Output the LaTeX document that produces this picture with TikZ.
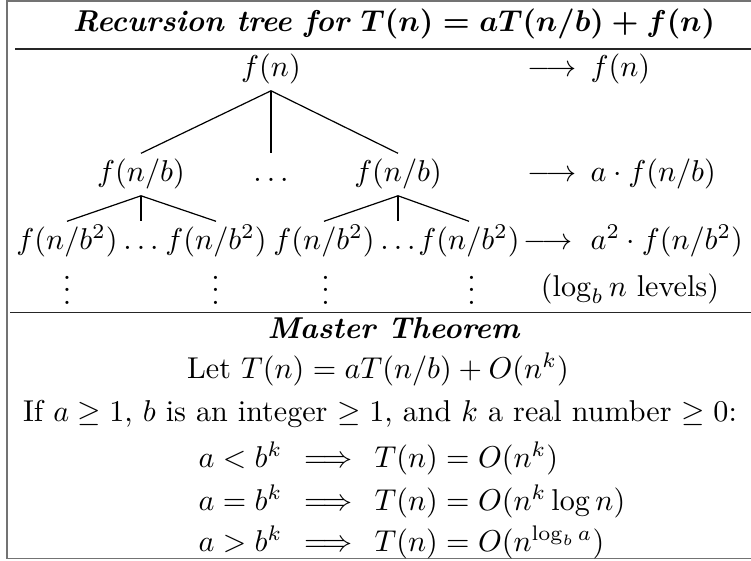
\documentclass[tikz,border=0pt]{standalone}
\usepackage{amsmath}
\begin{document}
\begin{tikzpicture}[x=0.3319pt,y=-0.3319pt,
  tn/.style={inner xsep=0.5pt, inner ysep=2.2pt, text height=6.8pt, text depth=2.5pt, anchor=base},
  txt/.style={inner sep=0pt, anchor=base},
  txtw/.style={inner sep=0pt, anchor=base west},
  edge/.style={line width=0.4pt, black},
  rulel/.style={line width=0.45pt, black!85},
  framel/.style={line width=0.55pt, black!55}]
\useasboundingbox (0,0) rectangle (751,560);
% frame (right side cut off)
\draw[framel] (751,0.8) -- (6.8,0.8) -- (6.8,558.6) -- (751,558.6);
% title
\node[txt] (title) at (394,31) {\textbf{\textit{Recursion tree for}} $\boldsymbol{T(n) = aT(n/b) + f(n)}$};
\draw[rulel] (15,49) -- (751,49);
% tree
\node[tn] (r) at (271,76) {$f(n)$};
\node[tn] (a) at (141,181) {$f(n/b)$};
\node[tn] (ad) at (271,181) {$\ldots$};
\node[tn] (b) at (398,181) {$f(n/b)$};
\node[tn] (a1) at (67,249) {$f(n/b^2)$};
\node[tn] (a2) at (141,249) {$\ldots$};
\node[tn] (a3) at (216,249) {$f(n/b^2)$};
\node[tn] (b1) at (324,249) {$f(n/b^2)$};
\node[tn] (b2) at (398,249) {$\ldots$};
\node[tn] (b3) at (469,249) {$f(n/b^2)$};
\draw[edge] (r.south) -- (a.north);
\draw[edge] (r.south) -- (ad.north);
\draw[edge] (r.south) -- (b.north);
\draw[edge] (a.south) -- (a1.north);
\draw[edge] (a.south) -- (a2.north);
\draw[edge] (a.south) -- (a3.north);
\draw[edge] (b.south) -- (b1.north);
\draw[edge] (b.south) -- (b2.north);
\draw[edge] (b.south) -- (b3.north);
\node[txt] (v1) at (67,304) {$\vdots$};
\node[txt] (v2) at (215.5,304) {$\vdots$};
\node[txt] (v3) at (325.5,304) {$\vdots$};
\node[txt] (v4) at (471.5,304) {$\vdots$};
% right column
\node[txtw] (ar0) at (527,76) {$\longrightarrow$};
\node[txtw] (s0) at (590,76) {$f(n)$};
\node[txtw] (ar1) at (527,181) {$\longrightarrow$};
\node[txtw] (s1) at (590,181) {$a\cdot f(n/b)$};
\node[txtw] (ar2) at (523,249) {$\longrightarrow$};
\node[txtw] (s2) at (590,249) {$a^2\cdot f(n/b^2)$};
\node[txt] (lv) at (630,296) {$(\log_b n$ levels$)$};
\draw[rulel] (10,312.5) -- (751,312.5);
% master theorem
\node[txt] (mt) at (394,338) {\textbf{\textit{Master Theorem}}};
\node[txt] (l1) at (378,378) {Let $T(n) = aT(n/b) + O(n^k)$};
\node[txt] (l2) at (380,421) {If $a \geq 1$, $b$ is an integer $\geq 1$, and $k$ a real number $\geq 0$:};
\node[txtw] (c1) at (198,467) {$a < b^k \,\implies\, T(n) = O(n^k)$};
\node[txtw] (c2) at (198,510) {$a = b^k \,\implies\, T(n) = O(n^k \log n)$};
\node[txtw] (c3) at (198,551) {$a > b^k \,\implies\, T(n) = O(n^{\log_b a})$};
\end{tikzpicture}
\end{document}
